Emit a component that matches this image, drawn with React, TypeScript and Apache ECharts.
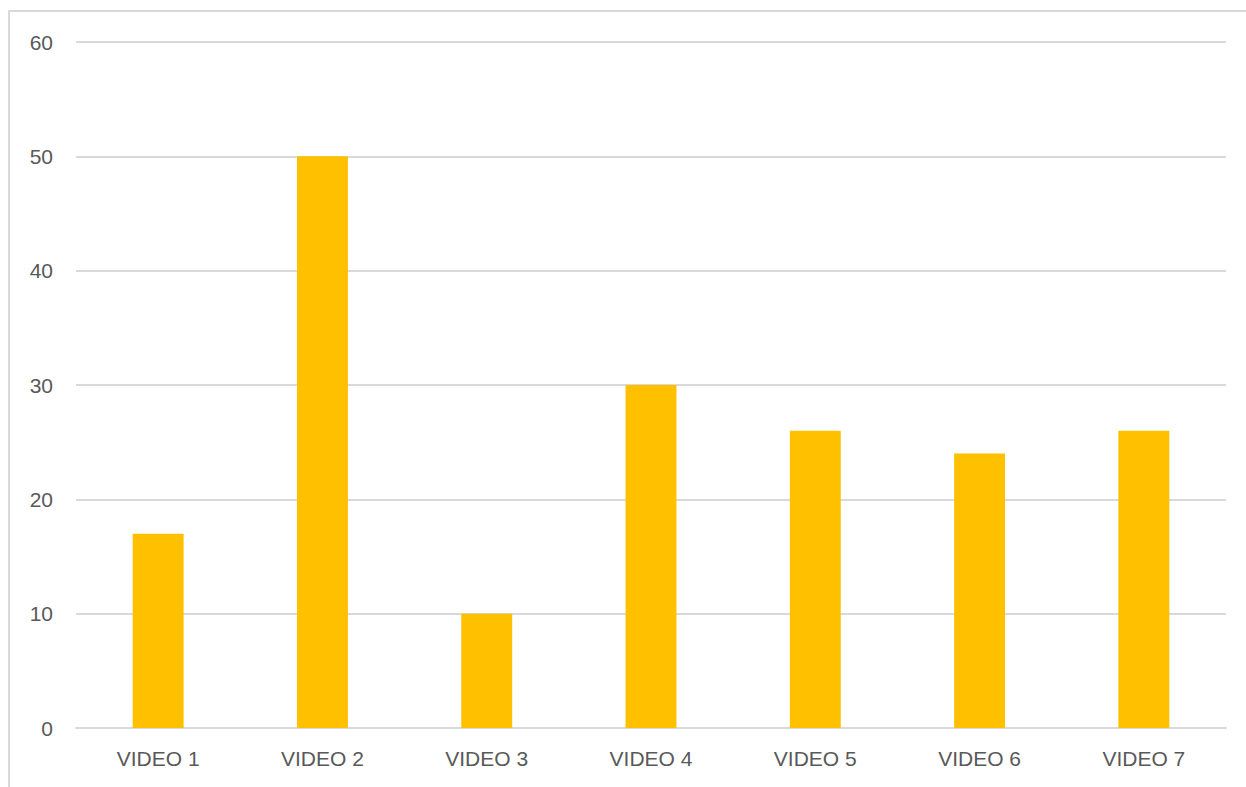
import React, { useEffect, useRef } from "react";
import * as echarts from "echarts";

const categories = ["VIDEO 1", "VIDEO 2", "VIDEO 3", "VIDEO 4", "VIDEO 5", "VIDEO 6", "VIDEO 7"];
const values = [17, 50, 10, 30, 26, 24, 26];

export default function App() {
  const ref = useRef<HTMLDivElement>(null);
  useEffect(() => {
    const chart = echarts.init(ref.current!, null, { renderer: "svg" });
    chart.setOption({
      animation: false,
      backgroundColor: "#ffffff",
      textStyle: { fontFamily: "Liberation Sans" },
      graphic: [
        {
          type: "polyline",
          silent: true,
          shape: { points: [[9, 800], [9, 11], [1260, 11]] },
          style: { stroke: "#D9D9D9", lineWidth: 2, fill: "none" },
        },
      ],
      grid: { left: 76, right: 20, top: 42, bottom: 59 },
      xAxis: {
        type: "category",
        data: categories,
        axisTick: { show: false },
        axisLine: { lineStyle: { color: "#D9D9D9", width: 2 } },
        axisLabel: { color: "#595959", fontSize: 21, margin: 20 },
      },
      yAxis: {
        type: "value",
        min: 0,
        max: 60,
        interval: 10,
        axisLine: { show: false },
        axisTick: { show: false },
        splitLine: { lineStyle: { color: "#D9D9D9", width: 2 } },
        axisLabel: { color: "#595959", fontSize: 21, margin: 23 },
      },
      series: [
        {
          type: "bar",
          data: values,
          barWidth: "31%",
          itemStyle: { color: "#FFC000" },
        },
      ],
    });
    return () => chart.dispose();
  }, []);
  return (
    <div
      ref={ref}
      style={{ position: "absolute", left: 0, top: 0, width: 1246, height: 787 }}
    />
  );
}
